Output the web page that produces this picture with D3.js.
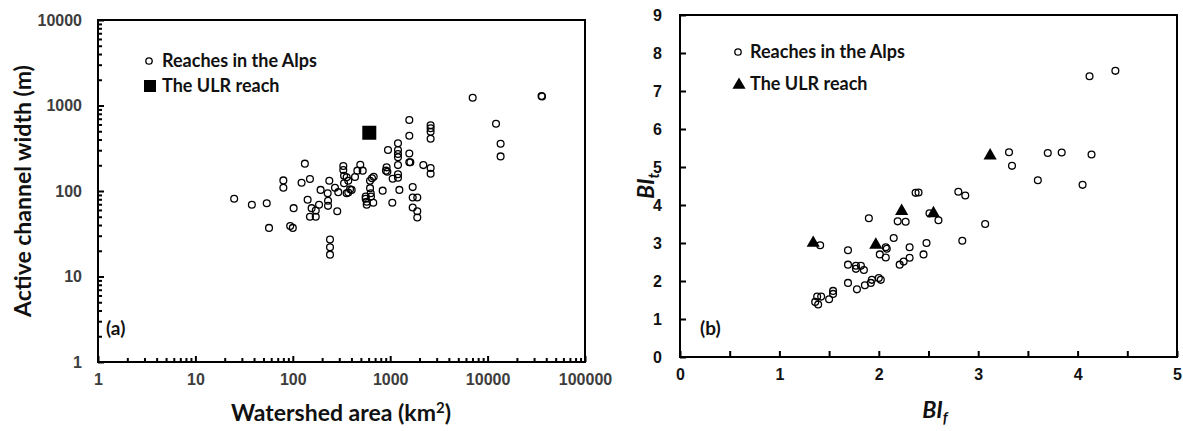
<!DOCTYPE html>
<html>
<head>
<meta charset="utf-8">
<script src="https://cdn.jsdelivr.net/npm/d3@7"></script>
</head>
<body style="margin:0;background:#fff">
<svg id="chart" width="1183" height="431" font-family="Lato, 'Open Sans', 'DejaVu Sans', sans-serif" font-weight="700"></svg>
<script>
// ---- Panel (a): watershed area (km2) vs active channel width (m) ----
const alpsArea = [25, 38, 54, 57, 80, 80, 94, 100, 102, 133, 123, 150, 142, 156, 172, 150, 172, 186, 193, 228,
  230, 230, 237, 286, 271, 293, 241, 241, 241, 330, 330, 336, 357, 336, 371, 357, 371, 387, 402, 435,
  460, 493, 522, 560, 560, 574, 574, 621, 631, 621, 650, 677, 635, 670, 837, 1051, 1060, 949, 918, 935,
  905, 7030, 35800, 36200, 12200, 13600, 13600, 1571, 1571, 2600, 2600, 2600, 2600, 1202, 1202, 1202, 1202, 1571,
  1571, 1610, 1202, 2188, 2600, 2600, 1202, 1202, 1242, 1702, 1702, 1897, 1702, 1897, 1897];
const alpsWidth = [81, 69, 72, 37, 133, 109, 39, 37, 63, 209, 125, 138, 79, 63, 59, 50, 50, 69, 103, 94,
  77, 67, 132, 58, 109, 97, 27, 22, 18, 196, 176, 151, 145, 123, 132, 94, 96, 105, 103, 146,
  173, 203, 173, 86, 81, 75, 69, 108, 94, 132, 141, 147, 86, 73, 101, 73, 139, 302, 189, 168,
  173, 1234, 1290, 1275, 612, 357, 254, 676, 443, 586, 541, 494, 409, 361, 302, 271, 248, 275,
  217, 217, 201, 201, 186, 159, 157, 143, 103, 111, 84, 84, 64, 58, 49];
const ulrArea = [610];
const ulrWidth = [480];
const areaTicks = [1, 10, 100, 1000, 10000, 100000];
const widthTicks = [1, 10, 100, 1000, 10000];

// ---- Panel (b): BIf vs BIt ----
const alpsBIf = [1.41, 1.90, 2.37, 2.40, 2.80, 2.87, 2.19, 2.27, 2.51, 2.60, 3.07, 2.15, 1.69, 1.69, 1.77, 1.82,
  1.77, 1.85, 2.01, 2.07, 2.08, 2.07, 2.21, 2.25, 2.31, 2.31, 2.45, 2.48, 2.84, 1.69, 1.78, 1.86,
  1.92, 1.93, 2.00, 2.02, 1.54, 1.54, 1.50, 1.42, 1.38, 1.36, 1.39, 4.12, 4.38, 3.31, 3.34, 3.70,
  3.84, 4.14, 3.60, 4.05];
const alpsBIt = [2.94, 3.65, 4.32, 4.33, 4.35, 4.25, 3.57, 3.56, 3.78, 3.60, 3.50, 3.13, 2.81, 2.43, 2.40, 2.40,
  2.32, 2.29, 2.70, 2.89, 2.85, 2.62, 2.43, 2.51, 2.89, 2.61, 2.70, 3.00, 3.06, 1.95, 1.78, 1.89,
  1.95, 2.03, 2.08, 2.03, 1.74, 1.66, 1.52, 1.59, 1.59, 1.45, 1.38, 7.39, 7.53, 5.39, 5.03, 5.37,
  5.38, 5.33, 4.65, 4.53];
const ulrBIf = [1.34, 1.97, 2.23, 2.55, 3.12];
const ulrBIt = [3.00, 2.95, 3.84, 3.78, 5.30];
const bifTicks = [0, 1, 2, 3, 4, 5];
const bifMinor = [0.5, 1.5, 2.5, 3.5, 4.5];
const bitTicks = [0, 1, 2, 3, 4, 5, 6, 7, 8, 9];

const svg = d3.select("#chart");
const ink = "#000";

const xA = d3.scaleLog().domain([1, 1e5]).range([98, 585]);
const yA = d3.scaleLog().domain([1, 1e4]).range([362, 20]);
const xB = d3.scaleLinear().domain([0, 5]).range([680, 1177]);
const yB = d3.scaleLinear().domain([0, 9]).range([357, 15]);

const minorOf = major => {
  const out = [];
  major.slice(0, -1).forEach(m => { for (let k = 2; k <= 9; k++) out.push(m * k); });
  return out;
};

// ---------------- marks ----------------
const gA = svg.append("g");
gA.append("g").selectAll("circle").data(d3.range(alpsArea.length)).join("circle")
  .attr("cx", i => xA(alpsArea[i])).attr("cy", i => yA(alpsWidth[i]))
  .attr("r", 3.4).attr("fill", "none").attr("stroke", ink).attr("stroke-width", 1.3);
const sq = 14;
gA.append("g").selectAll("rect").data(d3.range(ulrArea.length)).join("rect")
  .attr("x", i => xA(ulrArea[i]) - sq / 2).attr("y", i => yA(ulrWidth[i]) - sq / 2)
  .attr("width", sq).attr("height", sq).attr("fill", ink);

const gB = svg.append("g");
gB.append("g").selectAll("circle").data(d3.range(alpsBIf.length)).join("circle")
  .attr("cx", i => xB(alpsBIf[i])).attr("cy", i => yB(alpsBIt[i]))
  .attr("r", 3.4).attr("fill", "none").attr("stroke", ink).attr("stroke-width", 1.3);
const tri = d3.symbol().type(d3.symbolTriangle).size(75);
gB.append("g").selectAll("path").data(d3.range(ulrBIf.length)).join("path")
  .attr("transform", i => `translate(${xB(ulrBIf[i])},${yB(ulrBIt[i])})`)
  .attr("d", tri).attr("fill", ink);

// ---------------- legends, panel letters, titles ----------------
gA.append("circle").attr("cx", 149).attr("cy", 61).attr("r", 3.2)
  .attr("fill", "none").attr("stroke", ink).attr("stroke-width", 1.3);
gA.append("text").attr("x", 162).attr("y", 61).attr("dy", "0.35em").attr("font-size", 18).attr("fill", "#111")
  .text("Reaches in the Alps");
gA.append("rect").attr("x", 144).attr("y", 80).attr("width", 12).attr("height", 12).attr("fill", ink);
gA.append("text").attr("x", 162).attr("y", 86).attr("dy", "0.35em").attr("font-size", 18).attr("fill", "#111")
  .text("The ULR reach");
gA.append("text").attr("x", 106).attr("y", 328).attr("dy", "0.35em").attr("font-size", 19).attr("fill", "#111")
  .text("(a)");
gA.append("text").attr("transform", "translate(23,191) rotate(-90)").attr("text-anchor", "middle")
  .attr("dy", "0.35em").attr("font-size", 23).attr("fill", "#111").text("Active channel width (m)");
const xtA = gA.append("text").attr("x", 341).attr("y", 413).attr("text-anchor", "middle")
  .attr("dy", "0.35em").attr("font-size", 23).attr("fill", "#111");
xtA.append("tspan").text("Watershed area (km");
xtA.append("tspan").attr("font-size", 15).attr("baseline-shift", "55%").text("2");
xtA.append("tspan").text(")");

gB.append("circle").attr("cx", 738).attr("cy", 52).attr("r", 3.2)
  .attr("fill", "none").attr("stroke", ink).attr("stroke-width", 1.3);
gB.append("text").attr("x", 750).attr("y", 52).attr("dy", "0.35em").attr("font-size", 18).attr("fill", "#111")
  .text("Reaches in the Alps");
gB.append("path").attr("transform", "translate(739,85)").attr("d", tri).attr("fill", ink);
gB.append("text").attr("x", 750).attr("y", 84).attr("dy", "0.35em").attr("font-size", 18).attr("fill", "#111")
  .text("The ULR reach");
gB.append("text").attr("x", 700).attr("y", 328).attr("dy", "0.35em").attr("font-size", 19).attr("fill", "#111")
  .text("(b)");
const ytB = gB.append("text").attr("transform", "translate(646,186) rotate(-90)").attr("text-anchor", "middle")
  .attr("dy", "0.35em").attr("font-size", 23).attr("font-style", "italic").attr("fill", "#111");
ytB.append("tspan").text("BI");
ytB.append("tspan").attr("font-size", 15).attr("baseline-shift", "-30%").text("t");
const xtB = gB.append("text").attr("x", 935).attr("y", 410).attr("text-anchor", "middle")
  .attr("dy", "0.35em").attr("font-size", 23).attr("font-style", "italic").attr("fill", "#111");
xtB.append("tspan").text("BI");
xtB.append("tspan").attr("font-size", 15).attr("baseline-shift", "-30%").text("f");

// ---------------- axes and frames (drawn on top) ----------------
// d3 axis for placement of ticks and labels; each tick mark is drawn as a thin
// filled bar pointing into the plot, 2px thick.
function axis(parent, gen, tx, ty, labelFill, vertical, len) {
  parent.append("g").attr("transform", `translate(${tx},${ty})`).call(gen)
    .call(g => {
      g.select(".domain").remove();
      g.selectAll(".tick line").remove();
      g.selectAll(".tick").insert("rect", "text")
        .attr("x", vertical ? 0 : -1).attr("y", vertical ? -1 : -len)
        .attr("width", vertical ? len : 2).attr("height", vertical ? 2 : len)
        .attr("fill", ink);
      g.selectAll(".tick text").attr("font-size", 16).attr("font-weight", 700).attr("fill", labelFill);
    });
}

// Plot frame from four filled 2px bars.
function drawFrame(parent, x, y) {
  const [x0, x1] = x.range(), [y0, y1] = y.range();
  const bars = [
    [x0 - 1, y1 - 1, x1 - x0 + 2, 2],
    [x0 - 1, y0 - 1, x1 - x0 + 2, 2],
    [x0 - 1, y1 - 1, 2, y0 - y1 + 2],
    [x1 - 1, y1 - 1, 2, y0 - y1 + 2]
  ];
  parent.append("g").selectAll("rect").data(bars).join("rect")
    .attr("x", d => d[0]).attr("y", d => d[1]).attr("width", d => d[2]).attr("height", d => d[3])
    .attr("fill", ink);
}

axis(gA, d3.axisBottom(xA).tickValues(minorOf(areaTicks)).tickFormat(() => "").tickSize(0).tickPadding(0), 0, 362, "none", false, 4);
axis(gA, d3.axisBottom(xA).tickValues(areaTicks).tickFormat(d3.format("d")).tickSize(0).tickPadding(12), 0, 362, "#3d3d3d", false, 6);
axis(gA, d3.axisLeft(yA).tickValues(minorOf(widthTicks)).tickFormat(() => "").tickSize(0).tickPadding(0), 98, 0, "none", true, 4);
axis(gA, d3.axisLeft(yA).tickValues(widthTicks).tickFormat(d3.format("d")).tickSize(0).tickPadding(16), 98, 0, "#3d3d3d", true, 6);
drawFrame(gA, xA, yA);

axis(gB, d3.axisBottom(xB).tickValues(bifMinor).tickFormat(() => "").tickSize(0).tickPadding(0), 0, 357, "none", false, 6);
axis(gB, d3.axisBottom(xB).tickValues(bifTicks).tickFormat(d3.format("d")).tickSize(0).tickPadding(12), 0, 357, "#111", false, 6);
axis(gB, d3.axisLeft(yB).tickValues(bitTicks).tickFormat(d3.format("d")).tickSize(0).tickPadding(18), 680, 0, "#111", true, 6);
drawFrame(gB, xB, yB);
</script>
</body>
</html>
